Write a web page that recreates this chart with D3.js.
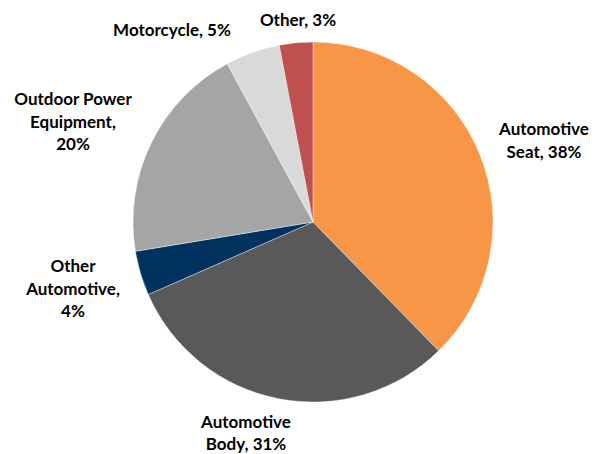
<!DOCTYPE html>
<html>
<head>
<meta charset="utf-8">
<script src="https://cdn.jsdelivr.net/npm/d3@7"></script>
<style>
  html, body { margin: 0; padding: 0; background: #fff; }
  svg { display: block; }
  text { font-family: Lato, "Open Sans", sans-serif; font-weight: bold; font-size: 17px; fill: #000; }
</style>
</head>
<body>
<svg id="chart" width="602" height="454"></svg>
<script>
const categories = ["Automotive Seat", "Automotive Body", "Other Automotive", "Outdoor Power Equipment", "Motorcycle", "Other"];
const values = [37.7, 30.7, 4.0, 19.7, 4.9, 3.0];
const labelLines = [
  ["Automotive", "Seat, {p}"],
  ["Automotive", "Body, {p}"],
  ["Other", "Automotive,", "{p}"],
  ["Outdoor Power", "Equipment,", "{p}"],
  ["Motorcycle, {p}"],
  ["Other, {p}"]
];
const colors = ["#F79646", "#595959", "#00325F", "#A5A5A5", "#D9D9D9", "#C0504D"];

const W = 602, H = 454;
const cx = 313, cy = 222, R = 180;
const svg = d3.select("#chart");
const g = svg.append("g").attr("transform", `translate(${cx},${cy})`);

const data = categories.map((c, i) => ({ name: c, value: values[i], lines: labelLines[i], color: colors[i] }));
const total = d3.sum(values);

const pie = d3.pie().value(d => d.value).sort(null);
const arc = d3.arc().innerRadius(0).outerRadius(R);
const arcs = pie(data);

g.selectAll("path.slice")
  .data(arcs)
  .enter().append("path")
  .attr("class", "slice")
  .attr("d", arc)
  .attr("fill", d => d.data.color)
  .attr("stroke", "#fff")
  .attr("stroke-width", 0.4);

// label anchor positions (center x, first baseline y), relative to center, per slice
const labelPos = [
  [231, -87],
  [-67, 205.5],
  [-240, 50],
  [-240, -117],
  [-141, -186],
  [-15, -196]
];
const lineH = 22.6;

const lbl = g.selectAll("text.lbl")
  .data(arcs)
  .enter().append("text")
  .attr("class", "lbl")
  .attr("text-anchor", "middle");

lbl.each(function(d, i) {
  const pct = Math.round(d.data.value / total * 100) + "%";
  const t = d3.select(this);
  d.data.lines.forEach((ln, j) => {
    t.append("tspan")
      .attr("x", labelPos[i][0])
      .attr("y", labelPos[i][1] + j * lineH)
      .text(ln.replace("{p}", pct));
  });
});
</script>
</body>
</html>
